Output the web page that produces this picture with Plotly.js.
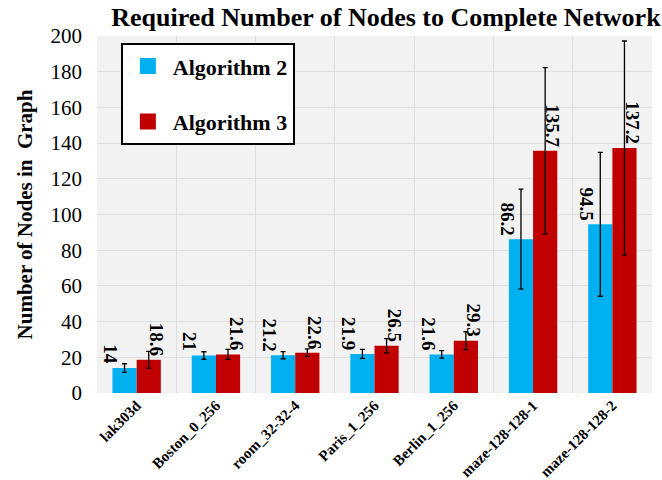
<!DOCTYPE html>
<html>
<head>
<meta charset="utf-8">
<script src="https://cdn.plot.ly/plotly-3.0.1.min.js"></script>
<style>html,body{margin:0;padding:0;background:#fff;}#chart{width:662px;height:480px;}</style>
</head>
<body>
<div id="chart"></div>
<script>
const categories = ["lak303d", "Boston_0_256", "room_32-32-4", "Paris_1_256", "Berlin_1_256", "maze-128-128-1", "maze-128-128-2"];
const alg2Values = [14, 21, 21.2, 21.9, 21.6, 86.2, 94.5];
const alg2Errors = [2.4, 2.1, 2.0, 2.5, 2.1, 28, 40.3];
const alg3Values = [18.6, 21.6, 22.6, 26.5, 29.3, 135.7, 137.2];
const alg3Errors = [4.7, 2.8, 2.1, 4.0, 5.0, 46.6, 60];
const seriesNames = ["Algorithm 2", "Algorithm 3"];
const seriesColors = ['#00B0F0', '#C00000'];

const FONT = "Liberation Serif, serif";

function barTrace(name, vals, errs, color) {
  return {
    type: 'bar',
    name: name,
    showlegend: false,
    x: categories,
    y: vals,
    marker: {color: color},
    error_y: {type: 'data', array: errs, visible: true, color: '#000', thickness: 1.3, width: 2.5},
    cliponaxis: false,
    hoverinfo: 'skip'
  };
}

function legendTrace(name, color, group) {
  return {
    type: 'scatter',
    mode: 'markers',
    name: name,
    legendgroup: group,
    x: [null],
    y: [null],
    marker: {symbol: 'square', size: 22, color: color},
    hoverinfo: 'skip'
  };
}

const data = [
  barTrace(seriesNames[0], alg2Values, alg2Errors, seriesColors[0]),
  barTrace(seriesNames[1], alg3Values, alg3Errors, seriesColors[1]),
  legendTrace(seriesNames[0], seriesColors[0], 'a'),
  legendTrace(seriesNames[1], seriesColors[1], 'b')
];

const annotations = [];
function addLabels(vals, shift) {
  vals.forEach((v, i) => {
    annotations.push({
      x: categories[i], y: v, xref: 'x', yref: 'y',
      text: '<b>' + v + '</b>',
      showarrow: false,
      textangle: 90,
      xanchor: 'center', yanchor: 'bottom',
      xshift: shift, yshift: 2,
      font: {family: FONT, size: 19, color: '#000'}
    });
  });
}
addLabels(alg2Values, -26);
addLabels(alg3Values, 20);

const layout = {
  width: 662,
  height: 480,
  margin: {l: 97, r: 10, t: 36, b: 87},
  paper_bgcolor: '#ffffff',
  plot_bgcolor: '#f2f2f2',
  font: {family: FONT, color: '#000'},
  title: {
    text: '<b>Required Number of Nodes to Complete Network</b>',
    font: {family: FONT, size: 26, color: '#000'},
    x: 0.583, xanchor: 'center', y: 0.965, yanchor: 'middle'
  },
  barmode: 'group',
  bargap: 0.39,
  bargroupgap: 0,
  showlegend: true,
  legend: {
    x: 0.043, y: 0.98, xanchor: 'left', yanchor: 'top',
    bgcolor: '#ffffff', bordercolor: '#000', borderwidth: 2,
    font: {family: FONT, size: 22, color: '#000', weight: 'bold'},
    tracegroupgap: 24,
    traceorder: 'grouped',
    itemwidth: 40
  },
  annotations: annotations,
  xaxis: {
    type: 'category',
    tickangle: -45,
    tickfont: {family: FONT, size: 15, color: '#000', weight: 'bold'},
    showgrid: true,
    gridcolor: '#dedede',
    tickson: 'boundaries',
    ticks: '',
    showline: false,
    zeroline: false
  },
  yaxis: {
    range: [0, 200],
    dtick: 20,
    tickfont: {family: FONT, size: 21, color: '#000'},
    gridcolor: '#dedede',
    showline: false,
    zeroline: false,
    ticks: '',
    ticklabelstandoff: 14,
    title: {
      text: '<b>Number of Nodes in  Graph</b>',
      font: {family: FONT, size: 21, color: '#000'},
      standoff: 12
    }
  }
};

Plotly.newPlot('chart', data, layout, {displayModeBar: false, staticPlot: true});
</script>
</body>
</html>
